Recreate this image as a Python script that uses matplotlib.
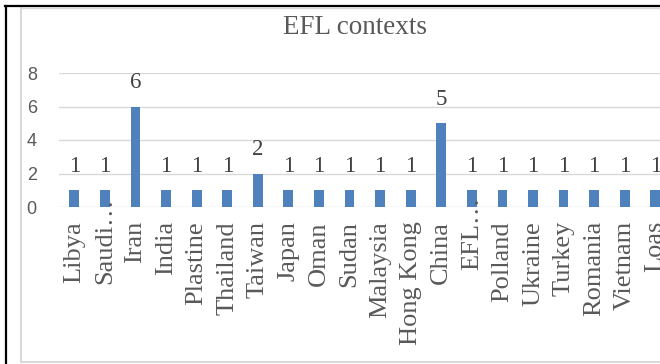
#!/usr/bin/env python3
"""
EFL contexts bar chart
"""
import numpy as np
import matplotlib
matplotlib.use("Agg")
import matplotlib.pyplot as plt
from matplotlib.lines import Line2D
from matplotlib.transforms import ScaledTranslation

# Chart data
categories = ["Libya", "Saudi\u2026", "Iran", "India", "Plastine", "Thailand",
              "Taiwan", "Japan", "Oman", "Sudan", "Malaysia", "Hong Kong",
              "China", "EFL\u2026", "Polland", "Ukraine", "Turkey", "Romania",
              "Vietnam", "Loas"]
counts = [1, 1, 6, 1, 1, 1, 2, 1, 1, 1, 1, 1, 5, 1, 1, 1, 1, 1, 1, 1]
y_ticks = [0, 2, 4, 6, 8]
title = "EFL contexts"

W, H = 660, 364
DPI = 100
BAR_COLOR = "#4F81BD"
GRID_COLOR = "#D9D9D9"
TEXT_GRAY = "#595959"
LABEL_DARK = "#404040"
SERIF = ["Liberation Serif", "DejaVu Serif"]
SANS = ["Liberation Sans", "DejaVu Sans"]


def fig_x(px):
    return px / W


def fig_y(px):
    return 1 - px / H


def create_plot():
    fig = plt.figure(figsize=(W / DPI, H / DPI), dpi=DPI)

    # plot area in pixels: left 59, zero line at 207, top (8) at 73
    left, right = 59, 59 + 20 * 30.58
    top, bottom = 73, 207
    ax = fig.add_axes([fig_x(left), fig_y(bottom),
                       (right - left) / W, (bottom - top) / H])

    x = np.arange(len(categories))
    ax.bar(x, counts, width=0.32, color=BAR_COLOR, zorder=3)

    ax.set_xlim(-0.5, len(categories) - 0.5)
    ax.set_ylim(0, 8)
    ax.set_yticks(y_ticks)
    ax.set_yticklabels([str(t) for t in y_ticks], fontsize=13,
                       color=TEXT_GRAY, family=SANS)
    ax.tick_params(axis="y", length=0, pad=16)
    ax.set_xticks([])

    for spine in ax.spines.values():
        spine.set_visible(False)
    for t in y_ticks:
        ax.axhline(t, color=GRID_COLOR, linewidth=1.0, zorder=1)

    # value labels above bars
    for xi, val in zip(x, counts):
        ax.annotate(str(val), (xi, val), xytext=(0, 13),
                    textcoords="offset points", ha="center", va="baseline",
                    fontsize=16.5, color=LABEL_DARK, family=SERIF,
                    annotation_clip=False)

    # category labels, rotated; truncated ones overflow upward
    for xi, name in zip(x, categories):
        pad_px = -10 if name.endswith("\u2026") else 14
        trans = ax.get_xaxis_transform() + ScaledTranslation(
            0, -pad_px / DPI, fig.dpi_scale_trans)
        ax.text(xi, 0, name, transform=trans, rotation=90,
                ha="center", va="top", fontsize=19, color=TEXT_GRAY,
                family=SERIF, clip_on=False)

    fig.text(fig_x(355), fig_y(28), title, ha="center", va="center",
             fontsize=19.5, color=TEXT_GRAY, family=SERIF)

    # chart frame (light gray) and page border (black)
    fig.add_artist(Line2D([fig_x(20.5), fig_x(20.5)], [fig_y(8), fig_y(361.5)],
                          color=GRID_COLOR, linewidth=1.5))
    fig.add_artist(Line2D([fig_x(20.5), fig_x(660)], [fig_y(361.5), fig_y(361.5)],
                          color=GRID_COLOR, linewidth=1.5))
    fig.add_artist(Line2D([fig_x(20.5), fig_x(660)], [fig_y(8), fig_y(8)],
                          color=GRID_COLOR, linewidth=1.0))
    fig.add_artist(Line2D([fig_x(6), fig_x(6)], [fig_y(6), fig_y(364)],
                          color="black", linewidth=1.6))
    fig.add_artist(Line2D([fig_x(5), fig_x(660)], [fig_y(6), fig_y(6)],
                          color="black", linewidth=1.6))

    fig.savefig("out.png", dpi=DPI)
    plt.close(fig)
    print("Plot saved: out.png")


if __name__ == "__main__":
    create_plot()
